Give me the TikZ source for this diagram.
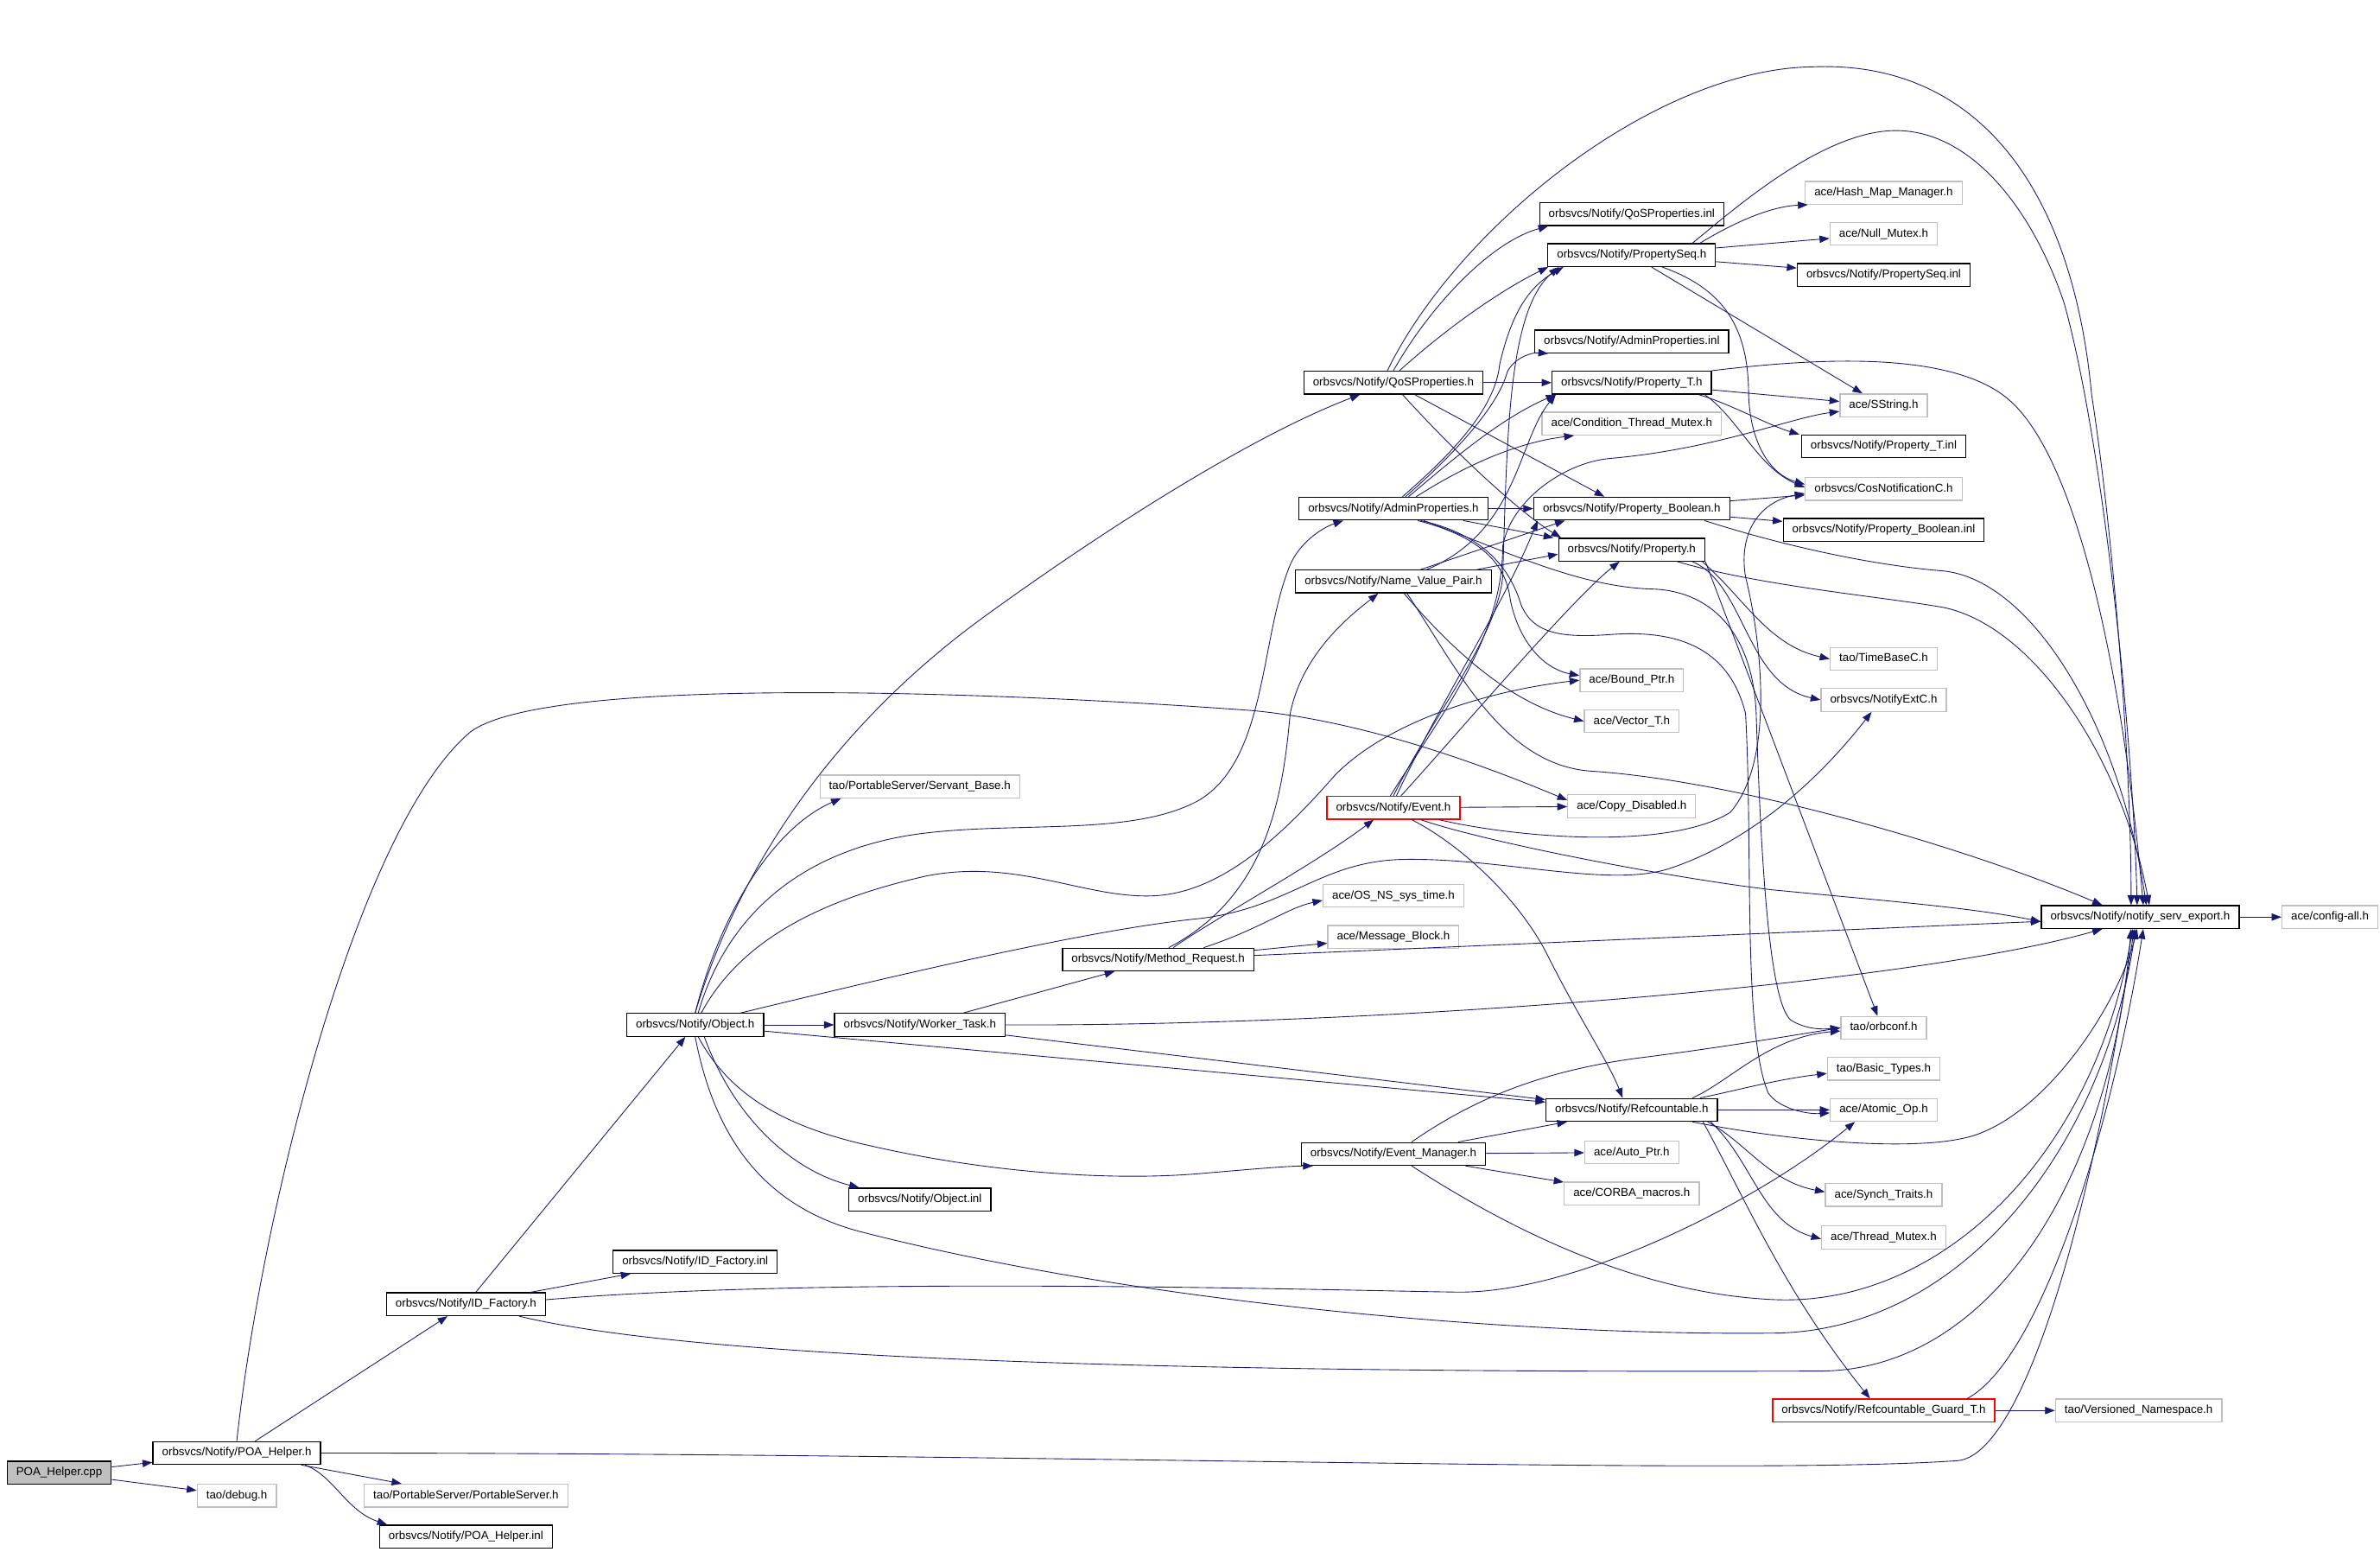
\documentclass[tikz,border=0pt]{standalone}
\usepackage{fontspec}
\setmainfont{Liberation Sans}
\usetikzlibrary{arrows.meta}

\definecolor{edgeblue}{HTML}{191970}
\definecolor{boxgrey}{HTML}{BFBFBF}

\begin{document}
\begin{tikzpicture}[x=1pt,y=-1pt,
    font=\fontsize{7.6}{9}\selectfont,
    inc/.style={draw=black,line width=0.75pt,fill=white,inner xsep=6pt,inner ysep=0pt,
      minimum height=15pt,text height=5.5pt,text depth=1.6pt},
    sysinc/.style={inc,draw=boxgrey},
    cutinc/.style={inc,draw=red},
    srcfile/.style={inc,fill=boxgrey},
    dep/.style={draw=edgeblue,line width=0.5pt,-{Triangle[length=6.5pt,width=4.8pt]}}]
  \fill[white] (0,0) rectangle (1568,1022);
  \useasboundingbox (0,0) rectangle (1568,1022);

  % first columns
  \draw (39,970) node[srcfile] (poacpp) {POA\_Helper.cpp};
  \draw (156,957) node[inc] (poahelper) {orbsvcs/Notify/POA\_Helper.h};
  \draw (156,985) node[sysinc] (debug) {tao/debug.h};
  \draw (307,859) node[inc] (idfactory) {orbsvcs/Notify/ID\_Factory.h};
  \draw (307,985) node[sysinc] (portableserver) {tao/PortableServer/PortableServer.h};
  \draw (307,1012) node[inc] (poahelperinl) {orbsvcs/Notify/POA\_Helper.inl};
  \draw (458,675) node[inc] (object) {orbsvcs/Notify/Object.h};
  \draw (458,831) node[inc] (idfactoryinl) {orbsvcs/Notify/ID\_Factory.inl};
  \draw (606,518) node[sysinc] (servantbase) {tao/PortableServer/Servant\_Base.h};
  \draw (606,675) node[inc] (workertask) {orbsvcs/Notify/Worker\_Task.h};
  \draw (606,790) node[inc] (objectinl) {orbsvcs/Notify/Object.inl};
  \draw (763,632) node[inc] (methodrequest) {orbsvcs/Notify/Method\_Request.h};

  % middle column
  \draw (918,252) node[inc] (qosprops) {orbsvcs/Notify/QoSProperties.h};
  \draw (918,335) node[inc] (adminprops) {orbsvcs/Notify/AdminProperties.h};
  \draw (918,383) node[inc] (namevalue) {orbsvcs/Notify/Name\_Value\_Pair.h};
  \draw (918,532) node[cutinc] (event) {orbsvcs/Notify/Event.h};
  \draw (918,590) node[sysinc] (systime) {ace/OS\_NS\_sys\_time.h};
  \draw (918,617) node[sysinc] (msgblock) {ace/Message\_Block.h};
  \draw (918,760) node[inc] (eventmgr) {orbsvcs/Notify/Event\_Manager.h};

  \draw (1075,141) node[inc] (qospropsinl) {orbsvcs/Notify/QoSProperties.inl};
  \draw (1075,168) node[inc] (propseq) {orbsvcs/Notify/PropertySeq.h};
  \draw (1075,225) node[inc] (adminpropsinl) {orbsvcs/Notify/AdminProperties.inl};
  \draw (1075,252) node[inc] (propt) {orbsvcs/Notify/Property\_T.h};
  \draw (1075,279) node[sysinc] (condmutex) {ace/Condition\_Thread\_Mutex.h};
  \draw (1075,335) node[inc] (propbool) {orbsvcs/Notify/Property\_Boolean.h};
  \draw (1075,362) node[inc] (property) {orbsvcs/Notify/Property.h};
  \draw (1075,448) node[sysinc] (boundptr) {ace/Bound\_Ptr.h};
  \draw (1075,475) node[sysinc] (vectort) {ace/Vector\_T.h};
  \draw (1075,531) node[sysinc] (copydisabled) {ace/Copy\_Disabled.h};
  \draw (1075,731) node[inc] (refcount) {orbsvcs/Notify/Refcountable.h};
  \draw (1075,759) node[sysinc] (autoptr) {ace/Auto\_Ptr.h};
  \draw (1075,786) node[sysinc] (corbamacros) {ace/CORBA\_macros.h};

  % right columns
  \draw (1241,127) node[sysinc] (hashmap) {ace/Hash\_Map\_Manager.h};
  \draw (1241,154) node[sysinc] (nullmutex) {ace/Null\_Mutex.h};
  \draw (1241,181) node[inc] (propseqinl) {orbsvcs/Notify/PropertySeq.inl};
  \draw (1241,267) node[sysinc] (sstring) {ace/SString.h};
  \draw (1241,294) node[inc] (proptinl) {orbsvcs/Notify/Property\_T.inl};
  \draw (1241,322) node[sysinc] (cosnotif) {orbsvcs/CosNotificationC.h};
  \draw (1241,349) node[inc] (propboolinl) {orbsvcs/Notify/Property\_Boolean.inl};
  \draw (1241,434) node[sysinc] (timebase) {tao/TimeBaseC.h};
  \draw (1241,461) node[sysinc] (notifyext) {orbsvcs/NotifyExtC.h};
  \draw (1241,677) node[sysinc] (orbconf) {tao/orbconf.h};
  \draw (1241,704) node[sysinc] (basictypes) {tao/Basic\_Types.h};
  \draw (1241,731) node[sysinc] (atomicop) {ace/Atomic\_Op.h};
  \draw (1241,787) node[sysinc] (synchtraits) {ace/Synch\_Traits.h};
  \draw (1241,815) node[sysinc] (threadmutex) {ace/Thread\_Mutex.h};
  \draw (1241,929) node[cutinc] (guard) {orbsvcs/Notify/Refcountable\_Guard\_T.h};
  \draw (1410,604) node[inc] (servexport) {orbsvcs/Notify/notify\_serv\_export.h};
  \draw (1535,604) node[sysinc] (configall) {ace/config-all.h};
  \draw (1409,929) node[sysinc] (versioned) {tao/Versioned\_Namespace.h};

  % POA_Helper
  \path (poacpp) edge[dep] (poahelper);
  \path (poacpp) edge[dep] (debug);
  \path (poahelper) edge[dep] (idfactory);
  \path (poahelper) edge[dep] (portableserver);
  \draw[dep] ([xshift=45pt]poahelper.south) .. controls (220,972) and (228,995) .. ([xshift=-52pt]poahelperinl.north);
  \draw[dep] (poahelper.east) .. controls (700,957) and (1150,972) .. (1290,962) .. controls (1330,958) and (1375,820) .. ([xshift=-4pt]servexport.south);
  \draw[dep] (poahelper.north) .. controls (172,800) and (235,545) .. (310,482) .. controls (360,445) and (650,455) .. (825,468) .. controls (900,475) and (980,505) .. ([yshift=4pt]copydisabled.west);

  % ID_Factory
  \path (idfactory) edge[dep] (object);
  \path (idfactory) edge[dep] (idfactoryinl);
  \draw[dep] ([yshift=3pt]idfactory.east) .. controls (550,840) and (880,850) .. (960,851) .. controls (1040,852) and (1160,790) .. ([xshift=-19pt]atomicop.south);
  \draw[dep] ([xshift=35pt]idfactory.south) .. controls (430,888) and (650,905) .. (1200,903) .. controls (1310,902) and (1390,780) .. ([xshift=-6pt]servexport.south);

  % Object
  \path (object) edge[dep] (workertask);
  \path (object) edge[dep] (refcount);
  \draw[dep] ([xshift=6pt]object.south) .. controls (485,740) and (525,772) .. ([xshift=-40pt]objectinl.north);
  \draw[dep] (object.north) .. controls (475,600) and (510,545) .. ([xshift=-52pt]servantbase.south);
  \draw[dep] (object.north) .. controls (490,560) and (560,470) .. (650,405) .. controls (740,340) and (830,285) .. ([xshift=-22pt]qosprops.south);
  \draw[dep] ([xshift=2pt]object.north) .. controls (478,605) and (525,562) .. (600,550) .. controls (665,540) and (745,552) .. (790,527) .. controls (835,500) and (830,420) .. (850,372) .. controls (856,358) and (870,348) .. ([xshift=-33pt]adminprops.south);
  \draw[dep] ([xshift=4pt]object.north) .. controls (485,625) and (530,595) .. (610,577) .. controls (670,565) and (715,592) .. (760,590) .. controls (805,588) and (845,550) .. (880,510) .. controls (915,475) and (980,455) .. (boundptr.west);
  \draw[dep] ([xshift=30pt]object.north) .. controls (600,640) and (720,612) .. (790,605) .. controls (850,598) and (870,567) .. (925,566) .. controls (990,565) and (1060,585) .. (1100,572) .. controls (1160,552) and (1205,505) .. ([xshift=-8pt]notifyext.south);
  \draw[dep] ([xshift=2pt]object.south) .. controls (480,720) and (515,742) .. (575,755) .. controls (650,772) and (730,778) .. (790,773) .. controls (825,770) and (848,768) .. ([xshift=-53pt]eventmgr.south);
  \draw[dep] (object.south) .. controls (470,745) and (500,795) .. (570,812) .. controls (750,858) and (1000,880) .. (1170,878) .. controls (1290,876) and (1385,760) .. ([xshift=-3pt]servexport.south);

  % Worker_Task and Method_Request
  \path (workertask) edge[dep] (methodrequest);
  \path (workertask) edge[dep] (refcount);
  \draw[dep] (workertask.east) .. controls (900,676) and (1250,650) .. ([xshift=-25pt]servexport.south);
  \draw[dep] ([xshift=10pt]methodrequest.north) .. controls (800,605) and (865,570) .. ([xshift=-13pt]event.south);
  \draw[dep] ([xshift=7pt]methodrequest.north) .. controls (835,590) and (845,525) .. (850,470) .. controls (858,430) and (890,405) .. ([xshift=-10pt]namevalue.south);
  \draw[dep] ([xshift=30pt]methodrequest.north) .. controls (830,612) and (848,598) .. ([yshift=-3pt]systime.west);
  \path (methodrequest) edge[dep] (msgblock);
  \path (methodrequest) edge[dep] (servexport);

  % Event_Manager
  \path (eventmgr) edge[dep] (refcount);
  \path (eventmgr) edge[dep] (autoptr);
  \path (eventmgr) edge[dep] (corbamacros);
  \draw[dep] ([xshift=12pt]eventmgr.north) .. controls (965,728) and (1010,705) .. (1086,696) .. controls (1140,689) and (1180,682) .. (orbconf.west);
  \draw[dep] ([xshift=12pt]eventmgr.south) .. controls (980,800) and (1070,852) .. (1170,856) .. controls (1280,860) and (1380,760) .. ([xshift=-5pt]servexport.south);

  % Event
  \path (event) edge[dep] (copydisabled);
  \draw[dep] ([xshift=5pt]event.north) .. controls (950,495) and (1035,395) .. ([xshift=-8pt]property.south);
  \draw[dep] (event.north) .. controls (945,470) and (986,420) .. (990,380) .. controls (993,290) and (993,205) .. ([xshift=-48pt]propseq.south);
  \draw[dep] ([xshift=2pt]event.north) .. controls (950,460) and (990,400) .. ([xshift=-62pt]propbool.south);
  \draw[dep] ([xshift=-2pt]event.north) .. controls (950,470) and (990,420) .. (990,360) .. controls (995,330) and (1030,305) .. (1060,302) .. controls (1130,296) and (1180,275) .. ([yshift=-4pt]sstring.west);
  \draw[dep] ([xshift=30pt]event.south) .. controls (1000,552) and (1100,560) .. (1140,535) .. controls (1170,500) and (1160,420) .. (1150,380) .. controls (1145,350) and (1160,330) .. ([yshift=-3pt]cosnotif.west);
  \draw[dep] ([xshift=18pt]event.south) .. controls (980,555) and (1100,578) .. (1167,586) .. controls (1250,594) and (1300,598) .. ([yshift=-3pt]servexport.west);
  \draw[dep] ([xshift=12pt]event.south) .. controls (960,555) and (1000,590) .. (1020,630) .. controls (1040,670) and (1060,700) .. ([xshift=-6pt]refcount.north);

  % Name_Value_Pair
  \draw[dep] ([xshift=22pt]namevalue.north) .. controls (1000,350) and (1000,290) .. ([xshift=-50pt]propt.south);
  \path ([xshift=18pt]namevalue.north) edge[dep] ([xshift=-44pt]propbool.south);
  \path ([xshift=55pt]namevalue.north) edge[dep] ([yshift=-3pt]property.west);
  \draw[dep] ([xshift=7pt]namevalue.south) .. controls (950,420) and (990,462) .. (vectort.west);
  \draw[dep] ([xshift=9pt]namevalue.south) .. controls (960,440) and (990,505) .. (1050,508) .. controls (1150,515) and (1300,560) .. ([xshift=-25pt]servexport.north);

  % AdminProperties
  \draw[dep] ([xshift=6pt]adminprops.north) .. controls (955,300) and (985,270) .. (988,240) .. controls (995,210) and (1005,190) .. ([xshift=-45pt]propseq.south);
  \draw[dep] ([xshift=8pt]adminprops.north) .. controls (957,300) and (987,268) .. (993,245) .. controls (998,235) and (1010,232) .. ([xshift=-55pt]adminpropsinl.south);
  \draw[dep] ([xshift=10pt]adminprops.north) .. controls (960,300) and (990,275) .. ([xshift=-50pt]propt.south);
  \draw[dep] ([xshift=15pt]adminprops.north) .. controls (960,310) and (995,292) .. ([xshift=-38pt]condmutex.south);
  \path (adminprops) edge[dep] (propbool);
  \path ([xshift=46pt]adminprops.south) edge[dep] ([xshift=-3pt]property.north west);
  \draw[dep] ([xshift=16pt]adminprops.south) .. controls (970,352) and (992,368) .. (995,395) .. controls (1000,420) and (1015,440) .. ([yshift=3pt]boundptr.west);
  \draw[dep] ([xshift=18pt]adminprops.south) .. controls (978,352) and (995,375) .. (1002,398) .. controls (1010,418) and (1030,420) .. (1060,418) .. controls (1110,414) and (1140,430) .. (1150,470) .. controls (1155,560) and (1148,680) .. (1165,720) .. controls (1172,730) and (1190,734) .. ([yshift=-2pt]atomicop.west);
  \draw[dep] ([xshift=20pt]adminprops.south) .. controls (990,362) and (1040,387) .. (1090,388) .. controls (1130,390) and (1155,420) .. (1157,470) .. controls (1160,560) and (1165,660) .. (1180,672) .. controls (1190,678) and (1200,678) .. (orbconf.west);

  % QoSProperties
  \draw[dep] (qosprops.north) .. controls (940,205) and (980,160) .. ([xshift=-55pt]qospropsinl.south);
  \draw[dep] ([xshift=4pt]qosprops.north) .. controls (960,210) and (995,188) .. ([xshift=-55pt]propseq.south);
  \path (qosprops) edge[dep] (propt);
  \path ([xshift=14pt]qosprops.south) edge[dep] ([xshift=-18pt]propbool.north);
  \draw[dep] ([xshift=6pt]qosprops.south) .. controls (965,305) and (1005,340) .. ([xshift=2pt]property.north west);
  \draw[dep] ([xshift=-4pt]qosprops.north) .. controls (960,150) and (1090,45) .. (1195,44) .. controls (1300,40) and (1365,120) .. (1378,260) .. controls (1392,350) and (1404,500) .. ([xshift=-6pt]servexport.north);

  % PropertySeq
  \draw[dep] ([xshift=45pt]propseq.north) .. controls (1140,148) and (1165,136) .. ([xshift=-50pt]hashmap.south);
  \path (propseq) edge[dep] (nullmutex);
  \path (propseq) edge[dep] (propseqinl);
  \path ([xshift=13pt]propseq.south) edge[dep] ([xshift=-14pt]sstring.north);
  \draw[dep] ([xshift=20pt]propseq.south) .. controls (1135,190) and (1152,215) .. (1152,260) .. controls (1153,290) and (1165,312) .. ([yshift=3pt]cosnotif.west);
  \draw[dep] ([xshift=40pt]propseq.north) .. controls (1140,140) and (1200,86) .. (1249,86) .. controls (1300,86) and (1340,140) .. (1360,200) .. controls (1385,290) and (1405,480) .. ([xshift=-2pt]servexport.north);

  % Property_T, Property_Boolean, Property
  \path (propt) edge[dep] (sstring);
  \draw[dep] ([xshift=44pt]propt.south) .. controls (1140,266) and (1165,280) .. ([xshift=-1pt]proptinl.north west);
  \draw[dep] ([xshift=48pt]propt.south) .. controls (1145,275) and (1158,308) .. ([yshift=1pt]cosnotif.west);
  \draw[dep] (propt.north east) .. controls (1180,238) and (1280,228) .. (1322,262) .. controls (1375,305) and (1402,480) .. ([xshift=2pt]servexport.north);
  \path (propbool) edge[dep] (cosnotif);
  \path (propbool) edge[dep] (propboolinl);
  \draw[dep] ([xshift=48pt]propbool.south) .. controls (1170,358) and (1230,372) .. (1280,376) .. controls (1340,382) and (1397,480) .. ([xshift=4pt]servexport.north);
  \path (property.south east) edge[dep] ([xshift=-4pt]orbconf.north);
  \draw[dep] ([xshift=-2pt]property.south east) .. controls (1150,395) and (1165,425) .. (timebase.west);
  \draw[dep] ([xshift=40pt]property.south) .. controls (1150,385) and (1150,450) .. (notifyext.west);
  \draw[dep] ([xshift=30pt]property.south) .. controls (1160,386) and (1240,393) .. (1280,400) .. controls (1340,412) and (1398,500) .. ([xshift=6pt]servexport.north);

  % Refcountable
  \draw[dep] ([xshift=40pt]refcount.north) .. controls (1140,712) and (1165,683) .. ([yshift=-2pt]orbconf.west);
  \draw[dep] ([xshift=45pt]refcount.north) .. controls (1145,718) and (1170,711) .. ([yshift=-3pt]basictypes.west);
  \path (refcount) edge[dep] (atomicop);
  \draw[dep] ([xshift=50pt]refcount.south) .. controls (1150,752) and (1165,778) .. ([yshift=2pt]synchtraits.west);
  \draw[dep] ([xshift=52pt]refcount.south) .. controls (1155,765) and (1160,805) .. ([yshift=-1pt]threadmutex.west);
  \draw[dep] ([xshift=47pt]refcount.south) .. controls (1150,790) and (1175,850) .. ([xshift=-9pt]guard.north);
  \draw[dep] ([xshift=40pt]refcount.south) .. controls (1170,750) and (1260,760) .. (1300,748) .. controls (1350,732) and (1396,660) .. ([xshift=-2pt]servexport.south);

  % Refcountable_Guard_T and notify_serv_export
  \path (guard) edge[dep] (versioned);
  \draw[dep] ([xshift=55pt]guard.north) .. controls (1345,895) and (1392,740) .. ([xshift=2pt]servexport.south);
  \path (servexport) edge[dep] (configall);
\end{tikzpicture}
\end{document}
